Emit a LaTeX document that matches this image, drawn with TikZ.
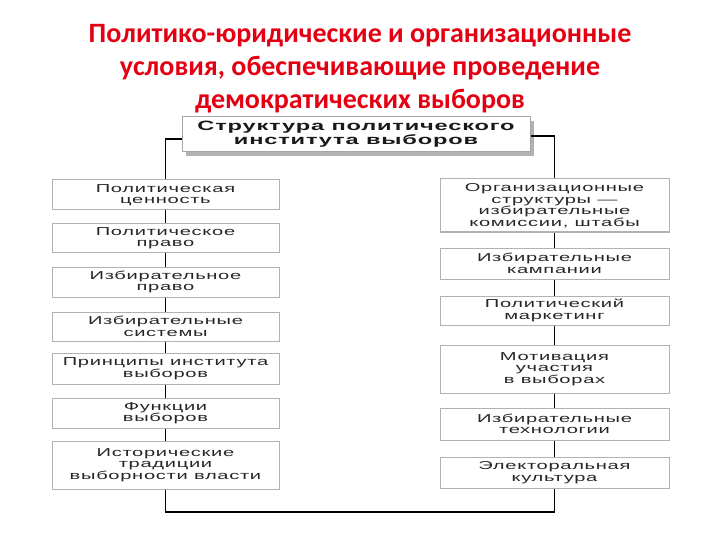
\documentclass[tikz,border=0pt]{standalone}
\usepackage{fontspec}
\setmainfont{Liberation Sans}
\newfontfamily\boxfont[FakeStretch=1.75,LetterSpace=6]{Liberation Sans}
\newfontfamily\headfont[FakeStretch=1.75,LetterSpace=6]{Liberation Sans}
\newfontfamily\titlefont{Carlito}
\usetikzlibrary{shadows}
\definecolor{titlered}{RGB}{228,0,18}
\begin{document}
\begin{tikzpicture}[x=1pt,y=-1pt,
  item/.style={draw=gray!60, line width=1pt, fill=white, align=center, inner sep=0pt,
    text=black!85, font=\boxfont\fontsize{11.5}{11.5}\selectfont},
  lbox/.style={item, minimum width=227pt},
  rbox/.style={item, minimum width=229pt},
  conn/.style={draw=black, line width=1.3pt}]
\fill[white] (0,0) rectangle (720,540);
\useasboundingbox (0,0) rectangle (720,540);

\node[font=\titlefont\bfseries\fontsize{28}{33}\selectfont, text=titlered, align=center] (head) at (360,69)
  {Политико-юридические и организационные\\условия, обеспечивающие проведение\\демократических выборов};

\node[draw=gray!70, line width=1pt, fill=white, minimum width=348pt, minimum height=35pt, inner sep=0pt,
  align=center, font=\headfont\bfseries\fontsize{13.5}{12.5}\selectfont, text=black!90,
  drop shadow={shadow xshift=4pt, shadow yshift=-4pt, fill=gray!60, opacity=1}] (title) at (356,134.5)
  {Структура политического\\института выборов};

\node[lbox, minimum height=30pt] (L1) at (165.5,195) {Политическая\\ценность};
\node[lbox, minimum height=28pt] (L2) at (165.5,238) {Политическое\\право};
\node[lbox, minimum height=30pt] (L3) at (165.5,282) {Избирательное\\право};
\node[lbox, minimum height=29pt] (L4) at (165.5,326.5) {Избирательные\\системы};
\node[lbox, minimum height=31pt] (L5) at (165.5,368.5) {Принципы института\\выборов};
\node[lbox, minimum height=30pt] (L6) at (165.5,413) {Функции\\выборов};
\node[lbox, minimum height=48pt] (L7) at (165.5,465) {Исторические\\традиции\\выборности власти};

\node[rbox, minimum height=53pt] (R1) at (554.5,205.5) {Организационные\\структуры —\\избирательные\\комиссии, штабы};
\node[rbox, minimum height=31pt] (R2) at (554.5,263.5) {Избирательные\\кампании};
\node[rbox, minimum height=29pt] (R3) at (554.5,310.5) {Политический\\маркетинг};
\node[rbox, minimum height=48pt] (R4) at (554.5,369) {Мотивация\\участия\\в выборах};
\node[rbox, minimum height=32pt] (R5) at (554.5,424) {Избирательные\\технологии};
\node[rbox, minimum height=31pt] (R6) at (554.5,472.5) {Электоральная\\культура};

\coordinate (bl) at (165.5,512);
\coordinate (br) at (554.5,512);

\draw[conn] ([yshift=-4.5pt]title.west) -| (L1.north);
\draw[conn] ([yshift=-1.5pt]title.east) -| (R1.north);
\draw[conn] (L1.south) -- (L2.north);
\draw[conn] (L2.south) -- (L3.north);
\draw[conn] (L3.south) -- (L4.north);
\draw[conn] (L4.south) -- (L5.north);
\draw[conn] (L5.south) -- (L6.north);
\draw[conn] (L6.south) -- (L7.north);
\draw[conn] (R1.south) -- (R2.north);
\draw[conn] (R2.south) -- (R3.north);
\draw[conn] (R3.south) -- (R4.north);
\draw[conn] (R4.south) -- (R5.north);
\draw[conn] (R5.south) -- (R6.north);
\draw[conn] (L7.south) -- (bl) -- (br) -- (R6.south);
\end{tikzpicture}
\end{document}
